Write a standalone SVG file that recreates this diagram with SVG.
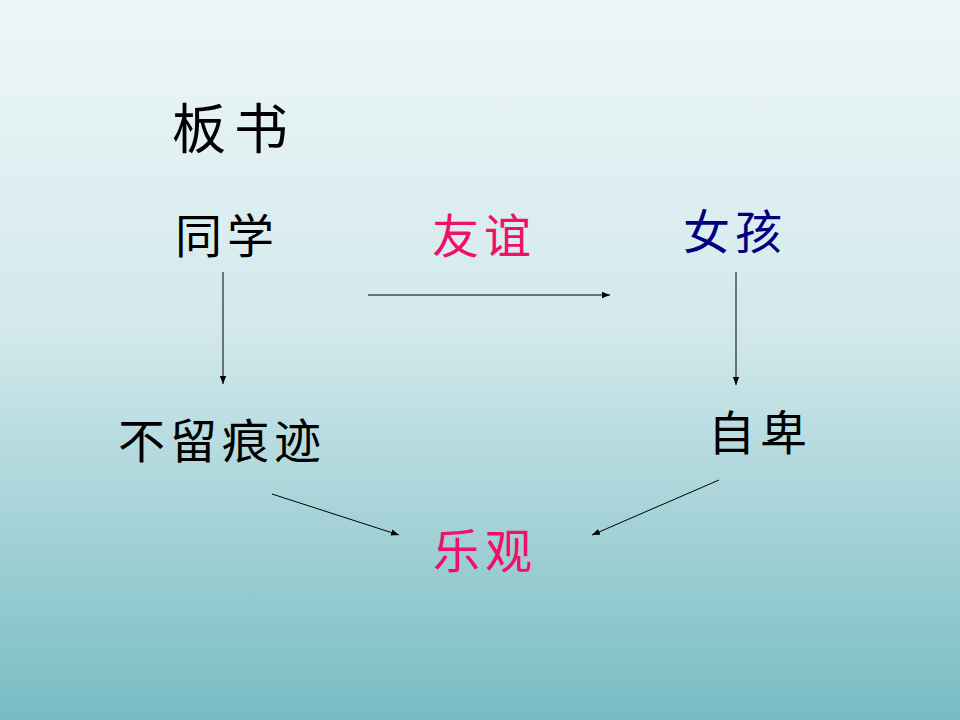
<svg xmlns="http://www.w3.org/2000/svg" width="960" height="720" viewBox="0 0 960 720">
<defs>
<linearGradient id="bg" x1="0" y1="0" x2="0" y2="1">
<stop offset="0" stop-color="#eef6f7"/><stop offset="0.45" stop-color="#d3e9ec"/><stop offset="1" stop-color="#77bcc3"/>
</linearGradient>
<marker id="ah" viewBox="0 0 10 10" refX="10" refY="5" markerWidth="8" markerHeight="8" orient="auto" markerUnits="userSpaceOnUse">
<path d="M0,1 L10,5 L0,9 z" fill="#000"/>
</marker>
<style>
text{font-family:"Noto Sans CJK SC",sans-serif;font-size:47px;letter-spacing:5px;fill:#000}
.l{stroke:#000;stroke-width:1;fill:none;marker-end:url(#ah)}
</style>
</defs>
<rect width="960" height="720" fill="url(#bg)"/>
<g id="title"><text x="172" y="149" style="font-size:54px;letter-spacing:8px">板书</text></g>
<g id="n1"><text x="175" y="253">同学</text></g>
<g id="n2"><text x="432" y="253" style="fill:#f0106a">友谊</text></g>
<g id="n3"><text x="683" y="249" style="fill:#000080">女孩</text></g>
<g id="n4"><text x="118" y="458">不留痕迹</text></g>
<g id="n5"><text x="708" y="450">自卑</text></g>
<g id="n6"><text x="433" y="568" style="fill:#f0106a">乐观</text></g>
<g id="connectors">
<line class="l" x1="223" y1="272" x2="223" y2="384"/>
<line class="l" x1="368" y1="295" x2="610" y2="295"/>
<line class="l" x1="736" y1="272" x2="736" y2="385"/>
<line class="l" x1="272" y1="494" x2="399" y2="535"/>
<line class="l" x1="719" y1="480" x2="592" y2="535"/>
</g>
</svg>
